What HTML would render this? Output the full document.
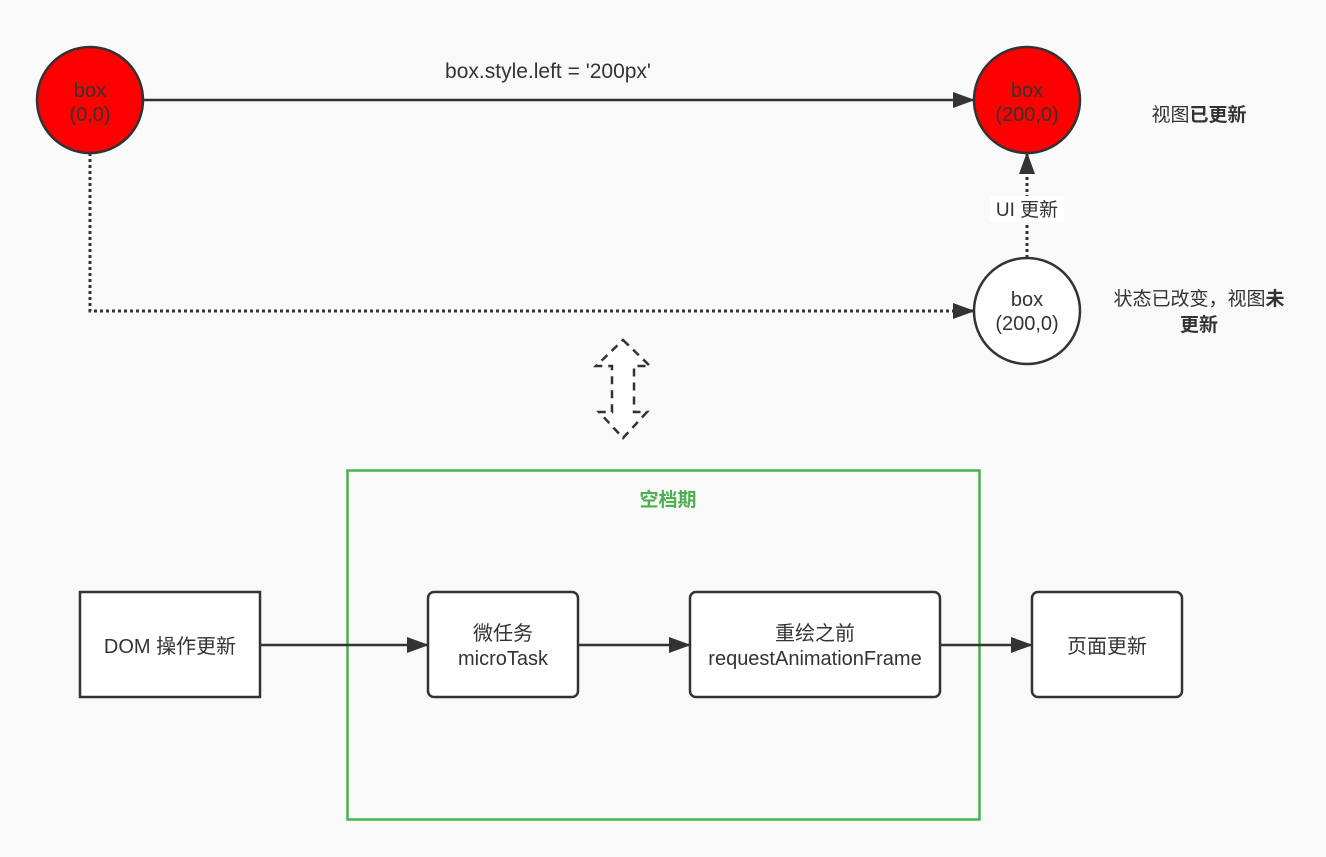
<!DOCTYPE html>
<html><head><meta charset="utf-8"><style>
html,body{margin:0;padding:0;background:#f9f9f9;}
svg{display:block;font-family:"Liberation Sans","Noto Sans CJK SC",sans-serif;}
</style></head><body>
<svg width="1326" height="857" viewBox="0 0 1326 857" xmlns="http://www.w3.org/2000/svg">
<defs>
<marker id="ah2" markerWidth="22" markerHeight="16" refX="21" refY="8" orient="auto" markerUnits="userSpaceOnUse" viewBox="0 0 22 16">
<path d="M0,0 L22,8 L0,16 z" fill="#333"/></marker>
</defs>
<rect width="1326" height="857" fill="#f9f9f9"/>
<line x1="143" y1="100" x2="974" y2="100" stroke="#333" stroke-width="2.5" marker-end="url(#ah2)"/>
<text x="548" y="78" font-size="21" fill="#333" text-anchor="middle">box.style.left = '200px'</text>
<polyline points="90,153 90,311 974,311" fill="none" stroke="#333" stroke-width="3" stroke-dasharray="3,3" marker-end="url(#ah2)"/>
<line x1="1027" y1="258" x2="1027" y2="153" stroke="#333" stroke-width="3" stroke-dasharray="3,3" marker-end="url(#ah2)"/>
<rect x="990" y="196" width="74" height="26" fill="#fff"/>
<text x="1027" y="216" font-size="19" fill="#333" text-anchor="middle">UI 更新</text>
<g font-size="20" fill="#333" text-anchor="middle">
<circle cx="90" cy="100" r="53" fill="#ff0000" stroke="#333" stroke-width="2.5"/>
<text x="90" y="97">box</text>
<text x="90" y="121">(0,0)</text>
<circle cx="1027" cy="100" r="53" fill="#ff0000" stroke="#333" stroke-width="2.5"/>
<text x="1027" y="97">box</text>
<text x="1027" y="121">(200,0)</text>
<circle cx="1027" cy="311" r="53" fill="#fff" stroke="#333" stroke-width="2.5"/>
<text x="1027" y="306">box</text>
<text x="1027" y="330">(200,0)</text>
</g>
<g font-size="19" fill="#333" text-anchor="middle">
<text x="1199" y="121">视图<tspan font-weight="bold">已更新</tspan></text>
<text x="1199" y="305">状态已改变，视图<tspan font-weight="bold">未</tspan></text>
<text x="1199" y="331" font-weight="bold">更新</text>
</g>
<polygon points="623,340 650,366 634,366 634,412 647,412 623,438 599,412 612,412 612,366 596,366" fill="#fff" stroke="#333" stroke-width="2.5" stroke-dasharray="8,6"/>
<rect x="347.5" y="470.5" width="632" height="349" fill="none" stroke="#4caf50" stroke-width="2.5"/>
<text x="668" y="506" font-size="19" fill="#4caf50" text-anchor="middle" font-weight="bold">空档期</text>
<line x1="260" y1="645" x2="428" y2="645" stroke="#333" stroke-width="2.5" marker-end="url(#ah2)"/>
<line x1="578" y1="645" x2="690" y2="645" stroke="#333" stroke-width="2.5" marker-end="url(#ah2)"/>
<line x1="940" y1="645" x2="1032" y2="645" stroke="#333" stroke-width="2.5" marker-end="url(#ah2)"/>
<g font-size="20" fill="#333" text-anchor="middle">
<rect x="80" y="592" width="180" height="105" fill="#fff" stroke="#333" stroke-width="2.5"/>
<text x="170" y="653">DOM 操作更新</text>
<rect x="428" y="592" width="150" height="105" rx="6" fill="#fff" stroke="#333" stroke-width="2.5"/>
<text x="503" y="640">微任务</text>
<text x="503" y="665">microTask</text>
<rect x="690" y="592" width="250" height="105" rx="6" fill="#fff" stroke="#333" stroke-width="2.5"/>
<text x="815" y="640">重绘之前</text>
<text x="815" y="665">requestAnimationFrame</text>
<rect x="1032" y="592" width="150" height="105" rx="6" fill="#fff" stroke="#333" stroke-width="2.5"/>
<text x="1107" y="653">页面更新</text>
</g>
</svg>
</body></html>
